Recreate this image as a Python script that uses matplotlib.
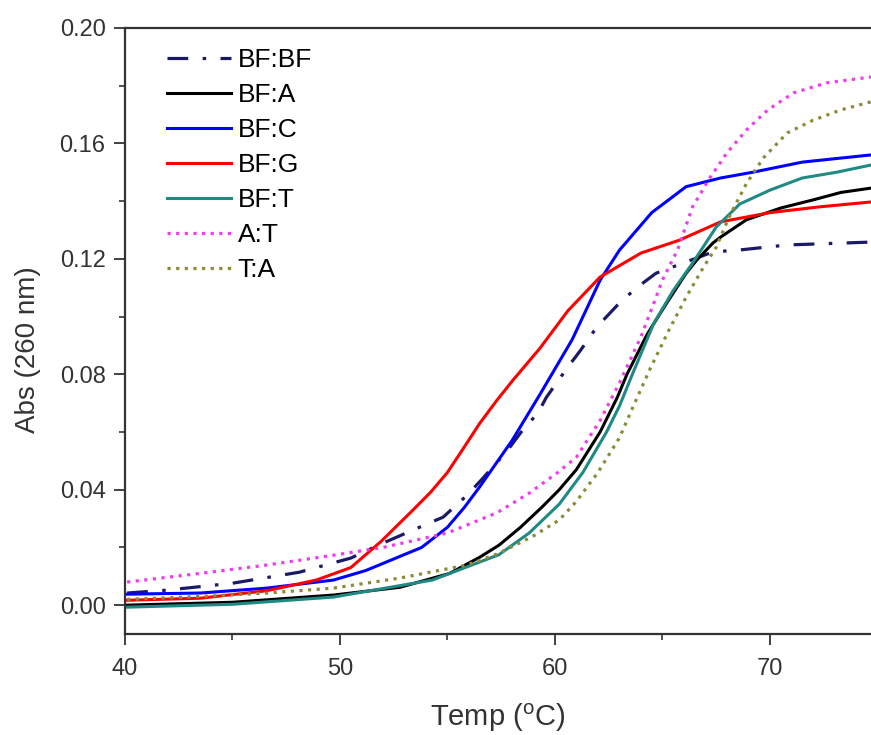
#!/usr/bin/env python
"""UV melting curves (Abs 260 nm vs temperature) for the BF duplexes."""

import matplotlib

matplotlib.use("Agg")
import matplotlib.pyplot as plt
from matplotlib.ticker import MultipleLocator

plt.rcParams["font.family"] = ["Liberation Sans", "DejaVu Sans"]

# values
bfbf_t = [40.1, 41.95, 45.0, 48.1, 50.5, 52.0, 53.7, 54.8, 55.9, 56.65, 57.8, 58.5, 59.2, 59.6,
          60.6, 61.2, 61.95, 63.0, 63.8, 64.7, 65.95, 67.35, 68.5, 70.8, 74.7]
bfbf_abs = [0.0042, 0.0052, 0.0076, 0.0114, 0.0163, 0.0215, 0.027, 0.0305, 0.038, 0.044, 0.0537,
            0.0607, 0.0665, 0.072, 0.0825, 0.0884, 0.0964, 0.1047, 0.110, 0.115, 0.1185, 0.1224,
            0.123, 0.1248, 0.1258]

bfa_t = [40.1, 45.0, 49.7, 52.8, 55.1, 56.5, 57.4, 58.4, 59.4, 60.2, 61.0, 62.1, 62.9, 63.35,
         64.3, 65.2, 66.1, 66.6, 67.35, 67.7, 68.9, 70.5, 72.0, 73.3, 74.7]
bfa_abs = [0.0, 0.001, 0.0035, 0.0062, 0.011, 0.0166, 0.0208, 0.027, 0.034, 0.040, 0.047, 0.060,
           0.072, 0.080, 0.094, 0.1047, 0.115, 0.1196, 0.1255, 0.1275, 0.1335, 0.1376, 0.1404,
           0.143, 0.1445]

bfc_t = [40.1, 43.5, 46.6, 49.7, 51.2, 52.5, 53.8, 55.0, 55.8, 56.5, 58.0, 59.3, 60.8, 62.1,
         63.0, 64.5, 66.1, 67.7, 69.2, 71.5, 74.7]
bfc_abs = [0.0038, 0.0042, 0.0059, 0.0087, 0.012, 0.016, 0.020, 0.027, 0.034, 0.041, 0.057,
           0.073, 0.092, 0.1126, 0.123, 0.136, 0.145, 0.148, 0.150, 0.1535, 0.156]

bfg_t = [40.1, 43.5, 46.6, 48.9, 50.5, 51.9, 53.4, 54.2, 55.0, 55.8, 56.5, 57.3, 58.05, 59.3,
         60.6, 62.1, 64.0, 65.8, 67.7, 70.0, 72.3, 74.7]
bfg_abs = [0.0017, 0.0024, 0.005, 0.0087, 0.013, 0.022, 0.033, 0.039, 0.046, 0.055, 0.063,
           0.071, 0.078, 0.089, 0.102, 0.1137, 0.122, 0.1265, 0.1328, 0.136, 0.138, 0.1397]

bft_t = [40.1, 45.0, 49.7, 54.3, 57.4, 58.8, 60.2, 61.3, 62.4, 63.0, 63.6, 64.6, 65.5, 66.4,
         67.5, 68.6, 70.0, 71.5, 73.1, 74.7]
bft_abs = [-0.0007, 0.0003, 0.0028, 0.0087, 0.0175, 0.025, 0.035, 0.046, 0.060, 0.069, 0.080,
           0.0977, 0.109, 0.1185, 0.131, 0.139, 0.1438, 0.148, 0.150, 0.1525]

at_t = [40.1, 43.5, 46.6, 49.7, 52.0, 55.0, 57.3, 58.8, 60.1, 61.0, 62.1, 63.0, 64.0, 64.6,
        65.0, 65.7, 66.4, 67.2, 68.0, 68.9, 69.9, 71.1, 72.65, 74.7]
at_abs = [0.008, 0.011, 0.0139, 0.0173, 0.020, 0.025, 0.032, 0.0388, 0.0458, 0.0513, 0.064,
          0.077, 0.093, 0.1047, 0.1127, 0.123, 0.138, 0.148, 0.1567, 0.1646, 0.1716, 0.1775,
          0.181, 0.183]

ta_t = [40.1, 43.5, 46.6, 49.7, 52.8, 55.9, 57.4, 59.0, 60.2, 61.0, 62.0, 63.0, 63.5, 64.4,
        65.3, 66.1, 66.9, 67.5, 68.1, 68.9, 69.7, 70.8, 72.0, 73.3, 74.7]
ta_abs = [0.002, 0.003, 0.0042, 0.0059, 0.0094, 0.0139, 0.018, 0.024, 0.0295, 0.036, 0.046,
          0.058, 0.0665, 0.0815, 0.0953, 0.1067, 0.117, 0.124, 0.1345, 0.146, 0.155, 0.1636,
          0.168, 0.1716, 0.1744]

series = [
    ("BF:BF", bfbf_t, bfbf_abs, "#1a1a66", (0, (6.5, 4.5, 1.1, 4.5)), 2.3),
    ("BF:A", bfa_t, bfa_abs, "#000000", "-", 2.2),
    ("BF:C", bfc_t, bfc_abs, "#0000ff", "-", 2.2),
    ("BF:G", bfg_t, bfg_abs, "#ff0000", "-", 2.2),
    ("BF:T", bft_t, bft_abs, "#1f8a84", "-", 2.2),
    ("A:T", at_t, at_abs, "#f03cf0", (0, (1, 1.7)), 2.3),
    ("T:A", ta_t, ta_abs, "#8b8b3a", (0, (1, 1.7)), 2.3),
]

fig = plt.figure(figsize=(8.71, 7.35), dpi=100)
ax = fig.add_axes([0.1435, 0.1374, 0.8565, 0.8246])

for label, temps, values, color, style, width in series:
    ax.plot(temps, values, color=color, linestyle=style, linewidth=width, label=label)

ax.set_xlim(40, 74.7)
ax.set_ylim(-0.01, 0.20)
ax.xaxis.set_major_locator(MultipleLocator(10))
ax.xaxis.set_minor_locator(MultipleLocator(5))
ax.yaxis.set_major_locator(MultipleLocator(0.04))
ax.yaxis.set_minor_locator(MultipleLocator(0.02))
ax.yaxis.set_major_formatter(lambda value, pos: f"{value:.2f}")

for side in ("left", "bottom", "top"):
    ax.spines[side].set_color("#333333")
    ax.spines[side].set_linewidth(1.6)
ax.spines["right"].set_visible(False)
ax.tick_params(which="major", direction="out", length=8, width=1.3, color="#333333",
               labelsize=17, labelcolor="#333333", pad=6)
ax.tick_params(axis="x", which="major", pad=9)
ax.tick_params(which="minor", direction="out", length=4, width=1.2, color="#333333")

ax.set_xlabel("Temp ($\\mathregular{^{o}}$C)", fontsize=21, color="#333333", labelpad=16)
ax.set_ylabel("Abs (260 nm)", fontsize=20, color="#333333")
ax.yaxis.set_label_coords(-0.112, 0.47)

ax.legend(loc="upper left", bbox_to_anchor=(0.0567, 0.967), frameon=False, fontsize=19,
          handlelength=2.4, handletextpad=0.27, labelspacing=0.42, borderpad=0,
          borderaxespad=0)

fig.savefig("out.png", dpi=100, facecolor="white")
